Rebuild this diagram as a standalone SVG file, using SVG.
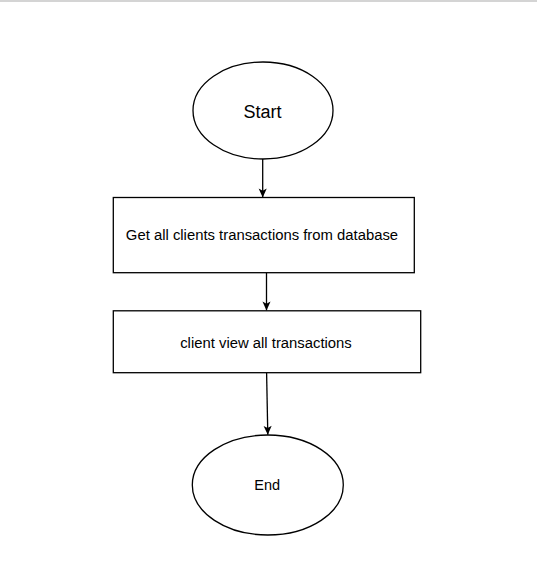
<svg xmlns="http://www.w3.org/2000/svg" width="537" height="572" viewBox="0 0 537 572">
  <style>
    .shape { fill: #ffffff; stroke: #000000; stroke-width: 1.3; }
    .edge { fill: none; stroke: #000000; stroke-width: 1.3; }
    .label { font-family: "Liberation Sans", Arial, sans-serif; fill: #000000; text-anchor: middle; }
  </style>
  <defs>
    <marker id="arrow" viewBox="0 0 10 10" refX="10" refY="5" markerWidth="10" markerHeight="9" markerUnits="userSpaceOnUse" orient="auto">
      <path d="M0,0.5 L10,5 L0,9.5 L2.5,5 Z" fill="#000000" stroke="none"/>
    </marker>
  </defs>
  <rect x="0" y="0" width="537" height="572" fill="#ffffff"/>
  <rect x="0" y="0" width="537" height="2" fill="#d4d4d4"/>

  <g id="connectors">
    <line class="edge" x1="262.7" y1="159" x2="262.7" y2="197.5" marker-end="url(#arrow)"/>
    <line class="edge" x1="266.5" y1="272.7" x2="266.5" y2="310.5" marker-end="url(#arrow)"/>
    <line class="edge" x1="266.6" y1="372.7" x2="267.8" y2="434.8" marker-end="url(#arrow)"/>
  </g>

  <g id="start">
    <ellipse class="shape" cx="263" cy="110.5" rx="70" ry="48.5"/>
    <text class="label" x="262.5" y="118" font-size="18">Start</text>
  </g>

  <g id="get-transactions">
    <rect class="shape" x="113.3" y="197.5" width="301" height="75.2"/>
    <text class="label" x="262" y="240" font-size="14.85">Get all clients transactions from database</text>
  </g>

  <g id="view-transactions">
    <rect class="shape" x="113.3" y="310.8" width="307.4" height="61.9"/>
    <text class="label" x="266" y="347.5" font-size="14.85">client view all transactions</text>
  </g>

  <g id="end">
    <ellipse class="shape" cx="267.8" cy="485" rx="75.5" ry="50"/>
    <text class="label" x="267.2" y="490" font-size="14.5">End</text>
  </g>
</svg>
